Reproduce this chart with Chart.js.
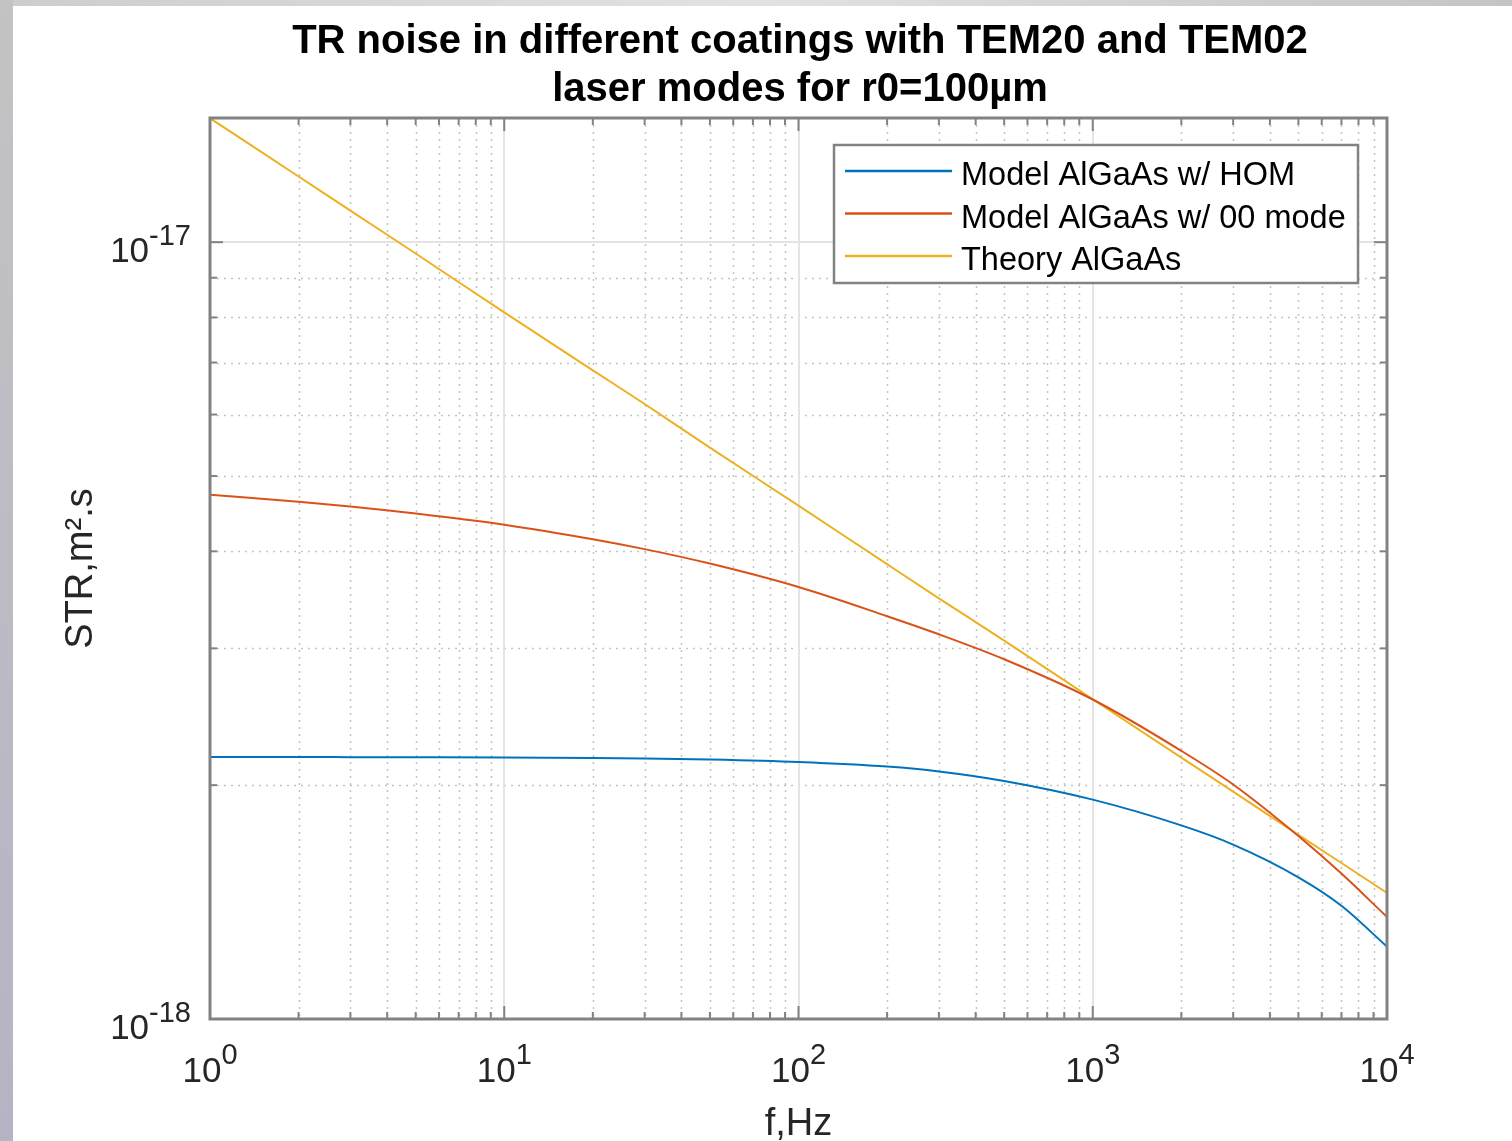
<!DOCTYPE html>
<html>
<head>
<meta charset="utf-8">
<title>TR noise</title>
<script src="https://cdn.jsdelivr.net/npm/chart.js@4.4.1/dist/chart.umd.min.js"></script>
<style>
  html, body { margin: 0; padding: 0; }
  body {
    width: 1512px; height: 1141px; overflow: hidden;
    background:
      linear-gradient(to bottom, #c3c3c3, #b6b3c4) left top / 13px 100% no-repeat,
      linear-gradient(to right, #cdcdcd, #e2e2e2 50%, #c4c4c4) left top / 100% 6px no-repeat,
      #ffffff;
  }
  canvas { position: absolute; left: 0; top: 0; }
</style>
</head>
<body>
<canvas id="chart" width="1512" height="1141"></canvas>
<script>
'use strict';

// ── Data (STR in units of 1e-18 m².s) ───────────────────────────────
const Y_UNIT = 1e-18;
const FREQ_HZ    = [1, 2, 3, 5, 10, 20, 30, 50, 100, 200, 300, 500, 1000, 2000, 3000, 5000, 7000, 10000];
const STR_HOM    = [2.174, 2.174, 2.173, 2.172, 2.171, 2.168, 2.165, 2.158, 2.142, 2.113, 2.083, 2.025, 1.916, 1.775, 1.677, 1.522, 1.399, 1.239];
const STR_00     = [4.73, 4.634, 4.568, 4.475, 4.329, 4.146, 4.026, 3.857, 3.598, 3.30, 3.128, 2.905, 2.578, 2.214, 2.004, 1.72, 1.539, 1.353];
const STR_THEORY = [14.44, 12.15, 10.98, 9.67, 8.12, 6.84, 6.19, 5.44, 4.58, 3.85, 3.48, 3.07, 2.58, 2.17, 1.962, 1.726, 1.588, 1.453];

const SERIES_LABELS = ['Model AlGaAs w/ HOM', 'Model AlGaAs w/ 00 mode', 'Theory AlGaAs'];
const SERIES_COLORS = ['#0072BD', '#D95319', '#EDB120'];

const X_DECADES  = [1, 10, 100, 1000, 10000];
const X_TICK_EXP = ['0', '1', '2', '3', '4'];
const Y_DECADES  = [1e-18, 1e-17];
const Y_TICK_EXP = ['-18', '-17'];

const TITLE_LINES = ['TR noise in different coatings with TEM20 and TEM02', 'laser modes for r0=100µm'];
const X_LABEL = 'f,Hz';
const Y_LABEL = 'STR,m².s';

// ── Styling ──────────────────────────────────────────────────────────
const FONT = '"Liberation Sans", Arial, Helvetica, sans-serif';
const AXIS_GREY = '#828282';
const TEXT_COLOR = '#262626';

function minorValues(decades, min, max) {
  const out = [];
  decades.forEach(d => {
    for (let k = 2; k <= 9; k++) {
      const v = k * d;
      if (v > min * 1.0001 && v < max * 0.9999) out.push(v);
    }
  });
  return out;
}

function line(ctx, x1, y1, x2, y2) {
  ctx.beginPath();
  ctx.moveTo(x1, y1);
  ctx.lineTo(x2, y2);
  ctx.stroke();
}

// "10" with a raised exponent
function drawPow(ctx, exp, x, y, align, rise) {
  ctx.font = `35px ${FONT}`;
  const wb = ctx.measureText('10').width;
  ctx.font = `29px ${FONT}`;
  const we = ctx.measureText(exp).width;
  const total = wb + we;
  const x0 = align === 'center' ? x - total / 2 : x - total;
  ctx.textAlign = 'left';
  ctx.font = `35px ${FONT}`;
  ctx.fillText('10', x0, y);
  ctx.font = `29px ${FONT}`;
  ctx.fillText(exp, x0 + wb, y - rise);
}

// ── MATLAB-style axes: grid, box, ticks, labels, legend, title ──────
const matlabAxes = {
  id: 'matlabAxes',
  beforeDatasetsDraw(chart) {
    const { ctx, chartArea: a, scales: { x, y } } = chart;
    ctx.save();
    // minor grid, dotted
    ctx.strokeStyle = '#c4c4c4';
    ctx.lineWidth = 1.5;
    ctx.setLineDash([2, 5]);
    minorValues(X_DECADES, x.min, x.max).forEach(v => {
      const px = Math.round(x.getPixelForValue(v)) + 0.5;
      line(ctx, px, a.top, px, a.bottom);
    });
    minorValues(Y_DECADES, y.min, y.max).forEach(v => {
      const py = Math.round(y.getPixelForValue(v)) + 0.5;
      line(ctx, a.left, py, a.right, py);
    });
    // major grid, solid
    ctx.setLineDash([]);
    ctx.strokeStyle = '#e4e4e4';
    ctx.lineWidth = 2;
    X_DECADES.slice(1, -1).forEach(v => {
      const px = Math.round(x.getPixelForValue(v));
      line(ctx, px, a.top, px, a.bottom);
    });
    Y_DECADES.forEach(v => {
      if (v <= y.min || v >= y.max) return;
      const py = Math.round(y.getPixelForValue(v));
      line(ctx, a.left, py, a.right, py);
    });
    ctx.restore();
  },
  afterDatasetsDraw(chart) {
    const { ctx, chartArea: a, scales: { x, y } } = chart;
    ctx.save();

    // ticks (inward, all four sides)
    ctx.strokeStyle = AXIS_GREY;
    ctx.lineWidth = 2;
    const tick = (v, len, horiz) => {
      if (horiz) {
        const px = x.getPixelForValue(v);
        line(ctx, px, a.bottom, px, a.bottom - len);
        line(ctx, px, a.top, px, a.top + len);
      } else {
        const py = y.getPixelForValue(v);
        line(ctx, a.left, py, a.left + len, py);
        line(ctx, a.right, py, a.right - len, py);
      }
    };
    minorValues(X_DECADES, x.min, x.max).forEach(v => tick(v, 7, true));
    X_DECADES.forEach(v => tick(v, 13, true));
    minorValues(Y_DECADES, y.min, y.max).forEach(v => tick(v, 7, false));
    Y_DECADES.forEach(v => tick(v, 13, false));

    // box
    ctx.lineWidth = 3;
    ctx.strokeRect(a.left, a.top, a.right - a.left, a.bottom - a.top);

    // tick labels
    ctx.fillStyle = TEXT_COLOR;
    ctx.textBaseline = 'alphabetic';
    X_DECADES.forEach((v, i) => drawPow(ctx, X_TICK_EXP[i], x.getPixelForValue(v), a.bottom + 63, 'center', 18));
    Y_DECADES.forEach((v, i) => drawPow(ctx, Y_TICK_EXP[i], a.left - 19, y.getPixelForValue(v) + 20, 'right', 17));

    // axis labels
    ctx.font = `38px ${FONT}`;
    ctx.textAlign = 'center';
    ctx.fillText(X_LABEL, (a.left + a.right) / 2, 1135);
    ctx.save();
    ctx.translate(92, (a.top + a.bottom) / 2);
    ctx.rotate(-Math.PI / 2);
    ctx.fillText(Y_LABEL, 0, 0);
    ctx.restore();

    // legend (inside, upper right)
    const box = { left: 834, top: 145, right: 1358, bottom: 283 };
    ctx.fillStyle = '#ffffff';
    ctx.fillRect(box.left, box.top, box.right - box.left, box.bottom - box.top);
    ctx.strokeStyle = AXIS_GREY;
    ctx.lineWidth = 2.5;
    ctx.strokeRect(box.left, box.top, box.right - box.left, box.bottom - box.top);
    ctx.font = `32.5px ${FONT}`;
    ctx.textAlign = 'left';
    chart.data.datasets.forEach((ds, i) => {
      const ly = 171 + i * 42.5;
      ctx.strokeStyle = ds.borderColor;
      ctx.lineWidth = 2.5;
      line(ctx, 845, ly, 952, ly);
      ctx.fillStyle = '#000000';
      ctx.fillText(ds.label, 961, ly + 14);
    });

    // title
    ctx.fillStyle = '#000000';
    ctx.font = `bold 40px ${FONT}`;
    ctx.textAlign = 'center';
    ctx.fillText(TITLE_LINES[0], 800, 53);
    ctx.fillText(TITLE_LINES[1], 800, 101);

    ctx.restore();
  },
};

// ── Chart ────────────────────────────────────────────────────────────
const seriesValues = [STR_HOM, STR_00, STR_THEORY];

new Chart(document.getElementById('chart'), {
  type: 'line',
  data: {
    datasets: seriesValues.map((vals, i) => ({
      label: SERIES_LABELS[i],
      data: FREQ_HZ.map((f, j) => ({ x: f, y: vals[j] * Y_UNIT })),
      borderColor: SERIES_COLORS[i],
      backgroundColor: SERIES_COLORS[i],
      borderWidth: 2,
      pointRadius: 0,
      cubicInterpolationMode: 'monotone',
      fill: false,
    })),
  },
  options: {
    responsive: false,
    animation: false,
    devicePixelRatio: 1,
    layout: { padding: { left: 210, top: 118, right: 125, bottom: 122 } },
    scales: {
      x: { type: 'logarithmic', min: 1, max: 10000, display: false },
      y: { type: 'logarithmic', min: 1e-18, max: 1.445e-17, display: false },
    },
    plugins: {
      legend: { display: false },
      title: { display: false },
      tooltip: { enabled: false },
    },
  },
  plugins: [matlabAxes],
});
</script>
</body>
</html>
